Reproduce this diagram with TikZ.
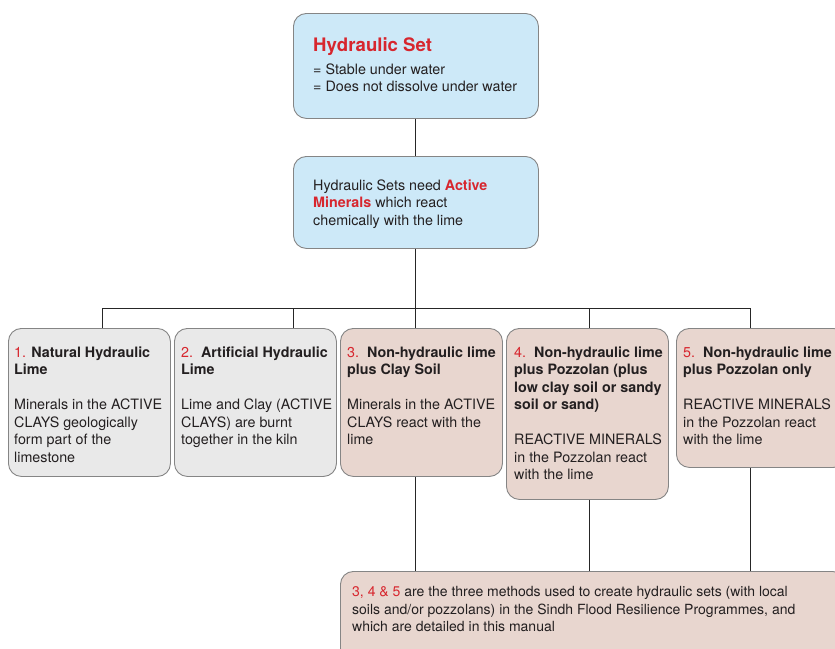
\documentclass[tikz,border=0pt]{standalone}
\usepackage{fontspec}
\setmainfont{TeX Gyre Heros}
\usetikzlibrary{calc}
\definecolor{hred}{HTML}{D7262E}
\definecolor{hblue}{HTML}{CDE9F8}
\definecolor{hgray}{HTML}{E9E9E9}
\definecolor{hpink}{HTML}{E8D6CF}
\definecolor{hborder}{HTML}{858585}
\definecolor{htext}{HTML}{231F20}
\newcommand{\rd}[1]{\textcolor{hred}{#1}}
\tikzset{
  boxbase/.style={draw=hborder, line width=0.9pt, rounded corners=13pt, anchor=north west, inner sep=0pt},
  bluebox/.style={boxbase, fill=hblue},
  graybox/.style={boxbase, fill=hgray},
  pinkbox/.style={boxbase, fill=hpink},
  txt/.style={anchor=north west, inner sep=0pt, align=left, text=htext, font=\fontsize{14.3}{17.5}\selectfont},
  conn/.style={draw=black!85, line width=0.9pt}
}
\begin{document}
\begin{tikzpicture}[x=1pt,y=-1pt]
\useasboundingbox (0,0) rectangle (835,648);
\clip (0,0) rectangle (835,648);
% boxes
\node[bluebox, minimum width=245pt, minimum height=105pt] (top) at (293,13) {};
\node[bluebox, minimum width=245pt, minimum height=92pt] (mid) at (293,156) {};
\node[graybox, minimum width=162pt, minimum height=148pt] (b1) at (8,328) {};
\node[graybox, minimum width=162pt, minimum height=148pt] (b2) at (174,328) {};
\node[pinkbox, minimum width=162pt, minimum height=148pt] (b3) at (340,328) {};
\node[pinkbox, minimum width=162pt, minimum height=171pt] (b4) at (506,328) {};
\node[pinkbox, minimum width=170pt, minimum height=139pt] (b5) at (676,328) {};
\node[pinkbox, minimum width=505pt, minimum height=90pt] (bot) at (340,571) {};
% texts
\node[anchor=north west, inner sep=0pt, text=hred, font=\fontsize{18.6}{20}\selectfont\bfseries] (toptitle) at (313,37.5) {Hydraulic Set};
\node[txt] (toptxt) at (313,63.5) {= Stable under water\\= Does not dissolve under water};
\node[txt] (midtxt) at (313,179.5) {Hydraulic Sets need \rd{\textbf{Active}}\\\rd{\textbf{Minerals}} which react\\chemically with the lime};
\node[txt] (b1t) at (14,346.5) {\rd{1.} \textbf{Natural Hydraulic}\\\textbf{Lime}\\[17.5pt]Minerals in the ACTIVE\\CLAYS geologically\\form part of the\\limestone};
\node[txt] (b2t) at (181,346.5) {\rd{2.}\ \ \textbf{Artificial Hydraulic}\\\textbf{Lime}\\[17.5pt]Lime and Clay (ACTIVE\\CLAYS) are burnt\\together in the kiln};
\node[txt] (b3t) at (347,346.5) {\rd{3.}\ \ \textbf{Non-hydraulic lime}\\\textbf{plus Clay Soil}\\[17.5pt]Minerals in the ACTIVE\\CLAYS react with the\\lime};
\node[txt] (b4t) at (514,346.5) {\rd{4.}\ \ \textbf{Non-hydraulic lime}\\\textbf{plus Pozzolan (plus}\\\textbf{low clay soil or sandy}\\\textbf{soil or sand)}\\[17.5pt]REACTIVE MINERALS\\in the Pozzolan react\\with the lime};
\node[txt] (b5t) at (683,346.5) {\rd{5.}\ \ \textbf{Non-hydraulic lime}\\\textbf{plus Pozzolan only}\\[17.5pt]REACTIVE MINERALS\\in the Pozzolan react\\with the lime};
\node[txt, font=\fontsize{14}{17.5}\selectfont] (bott) at (352,586.5) {\rd{3, 4 \& 5} are the three methods used to create hydraulic sets (with local\\soils and/or pozzolans) in the Sindh Flood Resilience Programmes, and\\which are detailed in this manual};
% connectors
\coordinate (barL) at (102,308);
\coordinate (barR) at (750,308);
\draw[conn] (top.south -| 415,0) -- (mid.north -| 415,0);
\draw[conn] (mid.south -| 415,0) -- (b3.north -| 415,0);
\draw[conn] (barL) -- (barR);
\draw[conn] (barL) -- (b1.north -| barL);
\draw[conn] (barL -| 293,0) -- (b2.north -| 293,0);
\draw[conn] (barL -| 589,0) -- (b4.north -| 589,0);
\draw[conn] (barR) -- (b5.north -| barR);
\draw[conn] (b3.south -| 415,0) -- (bot.north -| 415,0);
\draw[conn] (b4.south -| 589,0) -- (bot.north -| 589,0);
\draw[conn] (b5.south -| 750,0) -- (bot.north -| 750,0);
\end{tikzpicture}
\end{document}
